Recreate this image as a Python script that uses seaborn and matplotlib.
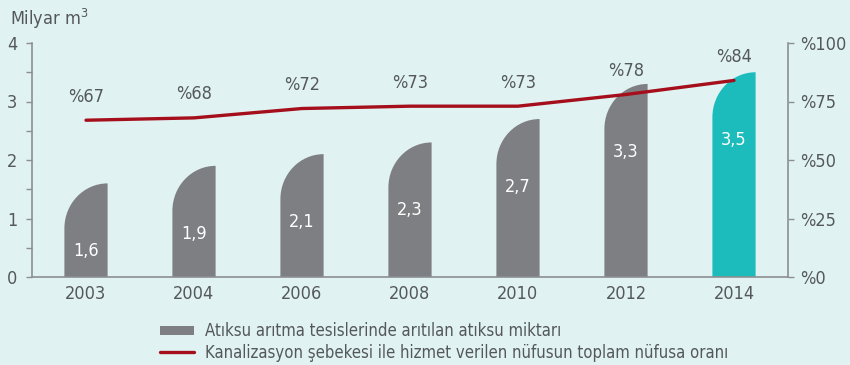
import numpy as np
import pandas as pd
import matplotlib
matplotlib.use("Agg")
import matplotlib.pyplot as plt
import seaborn as sns
from matplotlib import font_manager
from matplotlib.path import Path
from matplotlib.patches import PathPatch, Patch
from matplotlib.lines import Line2D
from matplotlib.ticker import MultipleLocator

years = ["2003", "2004", "2006", "2008", "2010", "2012", "2014"]
treated = [1.6, 1.9, 2.1, 2.3, 2.7, 3.3, 3.5]          # billion m3
coverage = [67, 68, 72, 73, 73, 78, 84]               # % of population
bar_labels = ["1,6", "1,9", "2,1", "2,3", "2,7", "3,3", "3,5"]
pct_labels = ["%67", "%68", "%72", "%73", "%73", "%78", "%84"]
right_ticks = [0, 25, 50, 75, 100]
right_tick_labels = ["%0", "%25", "%50", "%75", "%100"]
legend_bar = "Atıksu arıtma tesislerinde arıtılan atıksu miktarı"
legend_line = "Kanalizasyon şebekesi ile hizmet verilen nüfusun toplam nüfusa oranı"

BG = "#e0f2f2"
GRAY = "#7e7f83"
TEAL = "#1dbcbc"
RED = "#a50f1c"
TXT = "#54585c"
AX = "#8c8f92"
FS = 13

sns.set_theme(style="white")
names = {f.name for f in font_manager.fontManager.ttflist}
condensed = [f for f in font_manager.fontManager.ttflist
             if f.name == "DejaVu Sans" and f.stretch == "condensed"]
if "Liberation Sans Narrow" in names:
    plt.rcParams["font.family"] = ["Liberation Sans Narrow", "DejaVu Sans"]
else:
    plt.rcParams["font.family"] = ["DejaVu Sans"]
    if condensed:
        plt.rcParams["font.stretch"] = "condensed"
plt.rcParams["text.color"] = TXT

fig = plt.figure(figsize=(8.5, 3.65), dpi=100, facecolor=BG)
ax = fig.add_axes([32 / 850, 1 - 277 / 365, (788 - 32) / 850, (277 - 43) / 365])
ax.set_facecolor(BG)

df = pd.DataFrame({"year": years, "treated": treated, "coverage": coverage})
colors = [GRAY] * (len(years) - 1) + [TEAL]
sns.barplot(data=df, x="year", y="treated", hue="year", palette=colors,
            width=0.4, legend=False, ax=ax, saturation=1)

# reshape each bar: rounded top-left corner, square top-right
k = 0.5523
ry = 0.77
for p in list(ax.patches):
    x0, y0 = p.get_x(), p.get_y()
    w, h = p.get_width(), p.get_height()
    x1, top = x0 + w, y0 + h
    rx = w
    verts = [(x0, y0), (x0, top - ry),
             (x0, top - ry + k * ry), (x1 - k * rx, top), (x1, top),
             (x1, y0), (x0, y0)]
    codes = [Path.MOVETO, Path.LINETO, Path.CURVE4, Path.CURVE4, Path.CURVE4,
             Path.LINETO, Path.CLOSEPOLY]
    ax.add_patch(PathPatch(Path(verts, codes), facecolor=p.get_facecolor(),
                           edgecolor="none", zorder=2))
    p.remove()

for i, (v, lab) in enumerate(zip(treated, bar_labels)):
    ax.text(i, v - 1.16, lab, ha="center", va="center", color="white",
            fontsize=FS, zorder=4)

ax.set_xlim(-0.5, len(years) - 0.5)
ax.set_ylim(0, 4)
ax.set_xlabel("")
ax.set_ylabel("")
ax.yaxis.set_major_locator(MultipleLocator(1))
ax.yaxis.set_minor_locator(MultipleLocator(0.5))
ax.set_xticks(range(len(years)))
ax.set_xticklabels(years)
ax.set_xticks(np.arange(-0.5, len(years) + 0.5, 1), minor=True)
ax.tick_params(axis="x", which="major", length=0, pad=6, labelsize=FS, labelcolor=TXT)
ax.tick_params(axis="x", which="minor", length=4, width=1, color=AX, direction="out")
ax.tick_params(axis="y", which="both", length=4.5, width=1, color=AX, direction="out",
               labelsize=FS, labelcolor=TXT, pad=6, left=True)
for s in ["top", "right"]:
    ax.spines[s].set_visible(False)
for s in ["left", "bottom"]:
    ax.spines[s].set_color(AX)
    ax.spines[s].set_linewidth(1.2)

ax2 = ax.twinx()
sns.lineplot(x=np.arange(len(years)), y=coverage, color=RED, linewidth=2.4,
             ax=ax2, zorder=5)
ax2.set_ylim(0, 100)
ax2.set_yticks(right_ticks)
ax2.set_yticklabels(right_tick_labels)
ax2.tick_params(axis="y", length=4, width=1, color=AX, direction="out",
                labelsize=FS, labelcolor=TXT, pad=5, right=True)
for s in ["top", "left", "bottom"]:
    ax2.spines[s].set_visible(False)
ax2.spines["right"].set_color(AX)
ax2.spines["right"].set_linewidth(1.2)
ax2.grid(False)
for i, (v, lab) in enumerate(zip(coverage, pct_labels)):
    ax2.text(i, v + 10, lab, ha="center", va="center", fontsize=FS, color=TXT)

fig.text(10 / 850, 1 - 19 / 365, "Milyar m$^3$", ha="left", va="center",
         fontsize=FS, color=TXT)

handles = [Patch(facecolor=GRAY, edgecolor="none"),
           Line2D([0], [0], color=RED, linewidth=2.4)]
leg = fig.legend(handles, [legend_bar, legend_line], loc="upper left",
                 bbox_to_anchor=(152 / 850, 1 - 314 / 365), frameon=False,
                 fontsize=12, handlelength=2.0, handleheight=0.5,
                 handletextpad=0.7, labelspacing=0.2, borderpad=0)
for t in leg.get_texts():
    t.set_color(TXT)

fig.savefig("out.png", dpi=100, facecolor=BG)
